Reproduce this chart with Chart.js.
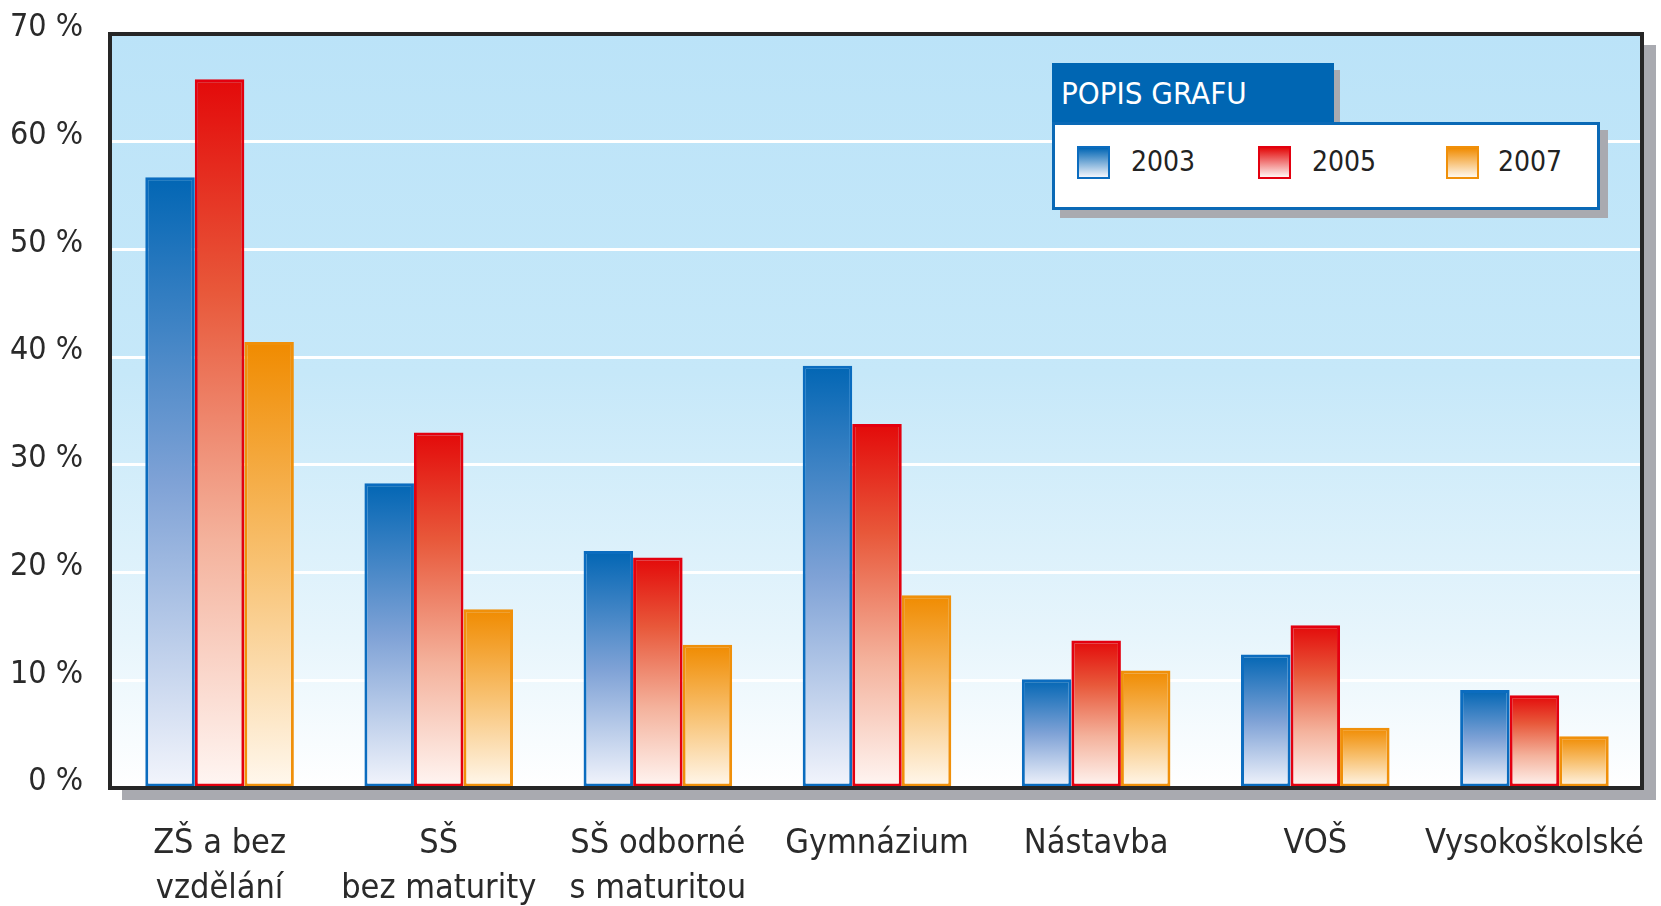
<!DOCTYPE html>
<html>
<head>
<meta charset="utf-8">
<script src="https://cdn.jsdelivr.net/npm/chart.js@4"></script>
<style>
  html, body { margin: 0; padding: 0; background: #fff; }
  #wrap { position: relative; width: 1661px; height: 906px; overflow: hidden; }
  #chart { position: absolute; left: 0; top: 0; }
  .lg { position: absolute; font-family: 'Liberation Sans Narrow', 'DejaVu Sans Condensed', sans-serif; }
  #lgTabShadow { left: 1058px; top: 70px; width: 282px; height: 60px; background: #a9aab0; }
  #lgTab { left: 1052px; top: 63px; width: 282px; height: 60px; background: #0066b3; }
  #lgTitle { left: 1061px; top: 74px; font-size: 31px; line-height: 38px; color: #fff; }
  #lgBoxShadow { left: 1060px; top: 130px; width: 548px; height: 88px; background: #a9aab0; }
  #lgBox { left: 1052px; top: 122px; width: 542px; height: 82px; background: #fff; border: 3px solid #0a69b6; }
  .sw { position: absolute; top: 146px; width: 29px; height: 29px; border: 2px solid; }
  .lgText { position: absolute; top: 143px; font-size: 28px; line-height: 38px; color: #222; }
</style>
</head>
<body>
<div id="wrap">
  <canvas id="chart" width="1661" height="906"></canvas>
  <div class="lg" id="lgTabShadow"></div>
  <div class="lg" id="lgTab"></div>
  <div class="lg" id="lgTitle">POPIS GRAFU</div>
  <div class="lg" id="lgBoxShadow"></div>
  <div class="lg" id="lgBox"></div>
  <div class="lg" id="lgItems"></div>
</div>
<script>
// --- Data ---
const categories = [
  ["ZŠ a bez", "vzdělání"],
  ["SŠ", "bez maturity"],
  ["SŠ odborné", "s maturitou"],
  "Gymnázium",
  "Nástavba",
  "VOŠ",
  "Vysokoškolské"
];
const years = ["2003", "2005", "2007"];
const values2003 = [56.7, 28.3, 22.0, 39.2, 10.1, 12.4, 9.1];
const values2005 = [65.8, 33.0, 21.4, 33.8, 13.7, 15.1, 8.6];
const values2007 = [41.4, 16.6, 13.3, 17.9, 10.9, 5.6, 4.8];
const yTickValues = [0, 10, 20, 30, 40, 50, 60, 70];
const yTickLabels = ["0 %", "10 %", "20 %", "30 %", "40 %", "50 %", "60 %", "70 %"];

// --- Styles ---
const FONT = "'Liberation Sans Narrow', 'DejaVu Sans Condensed', sans-serif";
const TEXT_COLOR = "#2a2a2a";
const series = [
  { data: values2003, border: "#0b6cbf", stops: [[0, "#0266b4"], [0.5, "#7fa2d6"], [1, "#f3f5fc"]] },
  { data: values2005, border: "#e3000f", stops: [[0, "#e30a0a"], [0.3, "#e8583a"], [0.65, "#f4b29c"], [1, "#fff6f3"]] },
  { data: values2007, border: "#f0900a", stops: [[0, "#f08b00"], [0.5, "#f8c273"], [1, "#fff8ee"]] }
];

// gradient per bar, from its top down to the zero line
function barGradient(stops) {
  return function (ctx) {
    const chart = ctx.chart;
    if (!chart.chartArea || ctx.type !== "data") return stops[0][1];
    const y = chart.scales.y;
    const top = y.getPixelForValue(ctx.raw);
    const base = y.getPixelForValue(0);
    const g = chart.ctx.createLinearGradient(0, top, 0, base);
    stops.forEach(s => g.addColorStop(s[0], s[1]));
    return g;
  };
}

// --- Plot frame: shadow, background, border ---
const framePlugin = {
  id: "frame",
  beforeDraw(chart) {
    const { ctx, chartArea: a } = chart;
    ctx.save();
    ctx.fillStyle = "#a9aab0";
    ctx.fillRect(a.left + 12, a.top + 11, a.width, a.height + 1);
    const g = ctx.createLinearGradient(0, a.top, 0, a.bottom);
    g.addColorStop(0, "#bbe3f8");
    g.addColorStop(0.45, "#c6e8f9");
    g.addColorStop(0.8, "#e7f5fc");
    g.addColorStop(1, "#ffffff");
    ctx.fillStyle = g;
    ctx.fillRect(a.left, a.top, a.width, a.height);
    ctx.restore();
  },
  afterDatasetsDraw(chart) {
    const { ctx, chartArea: a } = chart;
    ctx.save();
    ctx.strokeStyle = "#262626";
    ctx.lineWidth = 4;
    ctx.strokeRect(a.left, a.top, a.width - 2, a.height);
    ctx.restore();
  }
};

new Chart(document.getElementById("chart"), {
  type: "bar",
  data: {
    labels: categories,
    datasets: series.map((s, i) => ({
      label: years[i],
      data: s.data,
      backgroundColor: barGradient(s.stops),
      borderColor: s.border,
      borderWidth: 3,
      borderSkipped: false,
      categoryPercentage: 0.678,
      barPercentage: 1.0
    }))
  },
  options: {
    responsive: false,
    animation: false,
    devicePixelRatio: 1,
    layout: { padding: { left: 0, right: 17, top: 34, bottom: 0 } },
    plugins: {
      legend: { display: false },
      tooltip: { enabled: false }
    },
    scales: {
      x: {
        grid: { display: false },
        border: { display: false },
        ticks: {
          color: TEXT_COLOR,
          font: { family: FONT, size: 34, lineHeight: 1.32 },
          padding: 26,
          maxRotation: 0,
          autoSkip: false
        },
        afterFit(scale) {
          scale.height = 118;
          scale.paddingLeft = 0;
          scale.paddingRight = 0;
        }
      },
      y: {
        min: 0,
        max: 70,
        afterBuildTicks(scale) { scale.ticks = yTickValues.map(v => ({ value: v })); },
        grid: { color: "#ffffff", lineWidth: 3, drawTicks: false },
        border: { display: false },
        ticks: {
          color: TEXT_COLOR,
          font: { family: FONT, size: 32 },
          padding: 27,
          labelOffset: -6,
          callback: (v) => yTickLabels[yTickValues.indexOf(v)]
        },
        afterFit(scale) {
          scale.width = 110;
          scale.paddingTop = 0;
          scale.paddingBottom = 0;
        }
      }
    }
  },
  plugins: [framePlugin]
});

// --- HTML legend ---
const legendX = [1077, 1258, 1446];
const legendTextX = [1131, 1312, 1498];
const items = document.getElementById("lgItems");
series.forEach((s, i) => {
  const sw = document.createElement("div");
  sw.className = "sw";
  sw.style.left = legendX[i] + "px";
  sw.style.borderColor = s.border;
  sw.style.background = "linear-gradient(" + s.stops[0][1] + ", " + s.stops[s.stops.length - 1][1] + ")";
  items.appendChild(sw);
  const t = document.createElement("div");
  t.className = "lgText";
  t.style.left = legendTextX[i] + "px";
  t.style.fontFamily = FONT;
  t.textContent = years[i];
  items.appendChild(t);
});
</script>
</body>
</html>
